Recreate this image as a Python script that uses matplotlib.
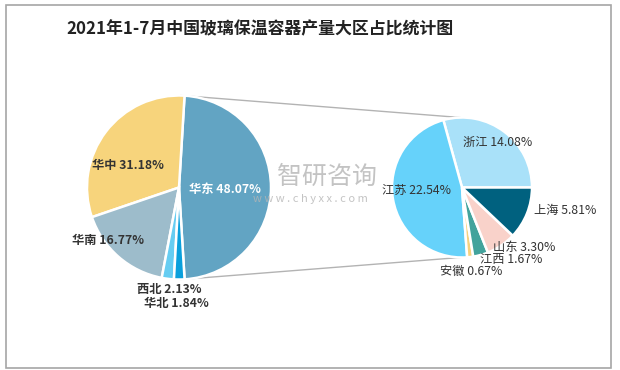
import numpy as np
import matplotlib
matplotlib.use("Agg")
import matplotlib.pyplot as plt
from matplotlib.patches import Rectangle

plt.rcParams["font.family"] = ["Noto Sans CJK SC", "DejaVu Sans"]

title = "2021年1-7月中国玻璃保温容器产量大区占比统计图"

# main pie: regions
regions = ["华东", "华中", "华南", "西北", "华北"]
region_share = [48.07, 31.18, 16.77, 2.13, 1.84]
region_colors = ["#62a4c3", "#f7d47c", "#9dbccb", "#66cdf2", "#0aa0dc"]

# breakdown of 华东
provinces = ["浙江", "江苏", "安徽", "江西", "山东", "上海"]
province_share = [14.08, 22.54, 0.67, 1.67, 3.30, 5.81]
province_colors = ["#a9e1f9", "#66d2fa", "#f6d27e", "#42a39c", "#f9d2ca", "#00617f"]

W, H = 620, 370
fig = plt.figure(figsize=(W / 100, H / 100), dpi=100)
ax = fig.add_axes([0, 0, 1, 1])

# frame
ax.add_patch(Rectangle((6, H - 368), 605, 363, fill=False, ec="#a6a6a6", lw=1.2))

ax.text(260, H - 29, title, ha="center", va="center", fontsize=12.2,
        fontweight="bold", color="#222222")

c1, r1 = (179, H - 187.5), 92
c2, r2 = (462, H - 187.5), 70

start1 = -region_share[0] * 3.6 / 2
ax.pie(region_share, colors=region_colors, startangle=start1, center=c1, radius=r1,
       wedgeprops=dict(edgecolor="white", linewidth=1.8), frame=True)
ax.pie(province_share, colors=province_colors, startangle=0, center=c2, radius=r2,
       wedgeprops=dict(edgecolor="white", linewidth=1.8), frame=True)
ax.set_xlim(0, W)
ax.set_ylim(0, H)
ax.set_aspect("equal")
ax.axis("off")

# connectors between the pies
ax.plot([c1[0] + 2, c2[0] - 2], [c1[1] + r1, c2[1] + r2], color="#b3b3b3", lw=1, zorder=0)
ax.plot([c1[0] + 2, c2[0] - 2], [c1[1] - r1, c2[1] - r2], color="#b3b3b3", lw=1, zorder=0)

# label offsets from pie centres (pixels)
offs1 = [(46, -1.5), (-51, 22.5), (-71.5, -53), (-10, -101.5), (-3, -115.5)]
offs2 = [(36, 45.5), (-46, -2.5), (9, -83.5), (49, -71.5), (62, -59.5), (103, -22.5)]

for name, v, (dx, dy) in zip(regions, region_share, offs1):
    col = "white" if name == "华东" else "#333333"
    ax.text(c1[0] + dx, c1[1] + dy, f"{name} {v:.2f}%", ha="center", va="center",
            fontsize=8.8, fontweight="bold", color=col, zorder=5)

for name, v, (dx, dy) in zip(provinces, province_share, offs2):
    ax.text(c2[0] + dx, c2[1] + dy, f"{name} {v:.2f}%", ha="center", va="center",
            fontsize=8.8, color="#333333", zorder=5)

# watermark
ax.text(327, H - 177, "智研咨询", ha="center", va="center", fontsize=18,
        color="#b5b5b5", alpha=0.8, zorder=6)
ax.text(310, H - 199, "w w w . c h y x x . c o m", ha="center", va="center",
        fontsize=8, color="#b5b5b5", alpha=0.8, zorder=6)

fig.savefig("out.png", dpi=100)
